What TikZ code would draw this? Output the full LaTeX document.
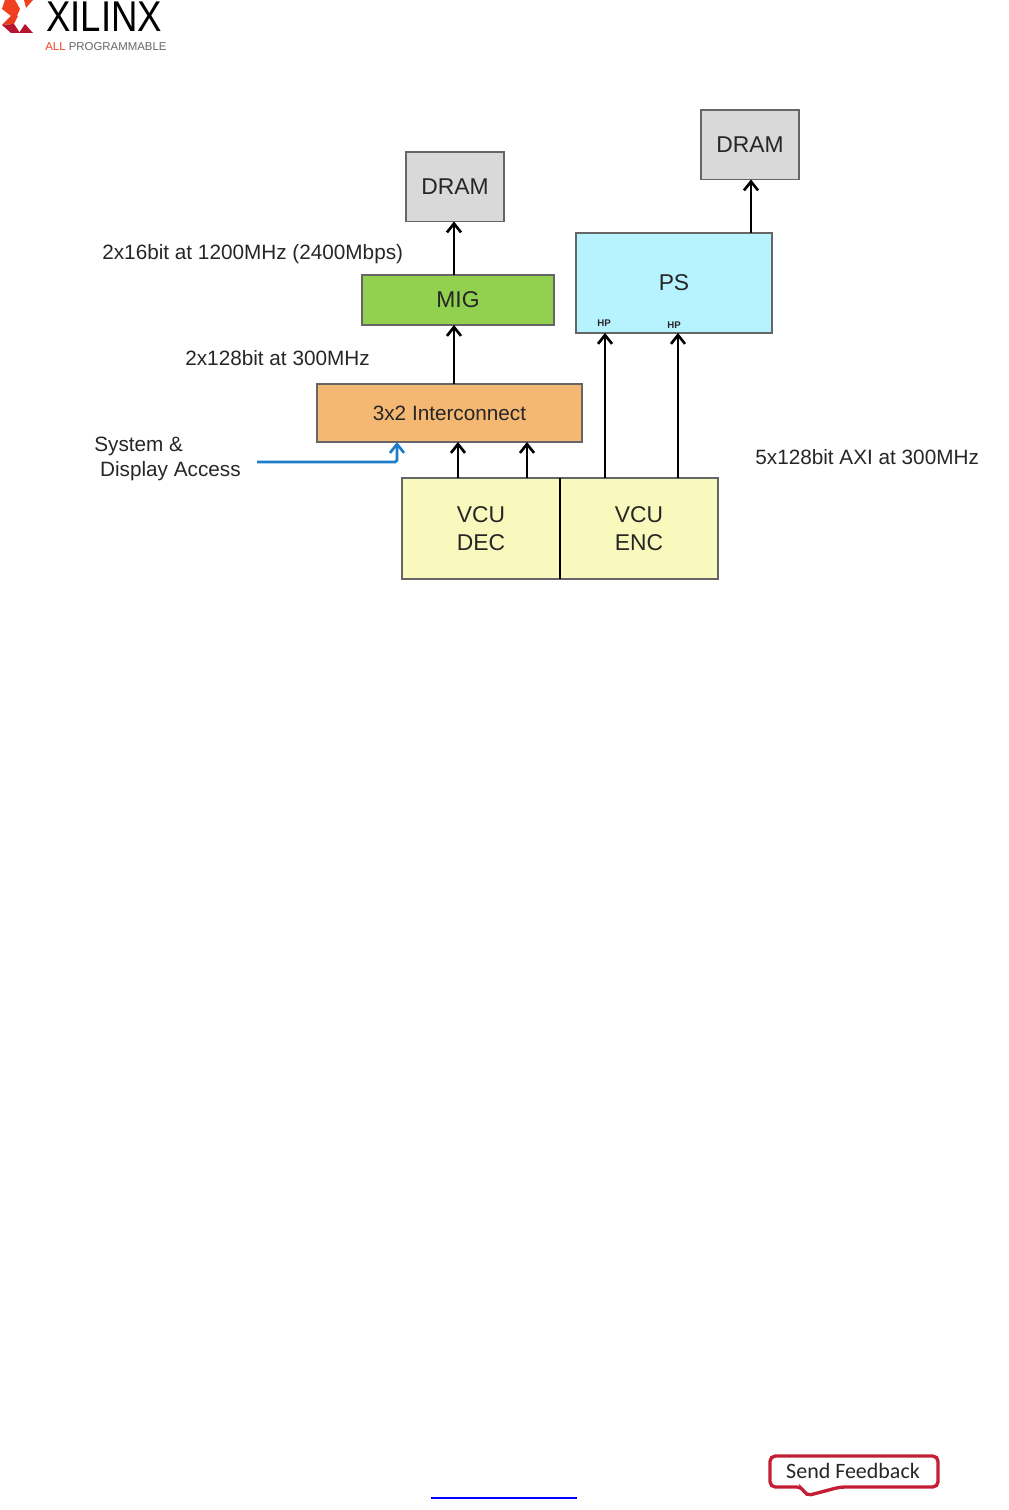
\documentclass[tikz,border=0pt]{standalone}
\usepackage{fontspec}
\setmainfont{Liberation Sans}
\newfontfamily\feedbackfont{Carlito}
\usetikzlibrary{arrows.meta,bending}

\definecolor{dramgray}{HTML}{D9D9D9}
\definecolor{psblue}{HTML}{B7F3FF}
\definecolor{miggreen}{HTML}{92D050}
\definecolor{icorange}{HTML}{F4B873}
\definecolor{vcuyellow}{HTML}{F9F9BE}
\definecolor{accessblue}{HTML}{1C7CC8}
\definecolor{sendred}{HTML}{C41E34}
\definecolor{logoorange}{HTML}{F0401E}
\definecolor{logored}{HTML}{B5162E}

\begin{document}
\begin{tikzpicture}[
  x=0.02cm,
  y=-0.02cm,
  every node/.style={font=\fontsize{13}{16}\selectfont,text=black!85},
  block/.style={draw=black!60,line width=0.9pt,inner sep=0pt,outer sep=0pt,align=center,anchor=north west},
  dram block/.style={block,fill=dramgray,minimum width=1.96cm,minimum height=1.39cm},
  vcu block/.style={block,fill=vcuyellow,minimum width=3.16cm,minimum height=2.02cm},
  bus label/.style={anchor=west,inner sep=0pt,font=\fontsize{11.8}{14.2}\selectfont,align=left},
  hp label/.style={inner sep=0pt,font=\fontsize{5.5}{6}\selectfont\bfseries},
  bus arrow/.style={-{Straight Barb[length=5pt,width=8pt]},line width=1.5pt,black},
]
\useasboundingbox (0,0) rectangle (1008,1510);

% logo
\fill[logoorange] (5,0) -- (15,0) -- (20,9) -- (17,16) -- (11,16) -- (2,9) -- cycle;
\fill[logoorange] (24,0) -- (33,0) -- (26,8) -- cycle;
\fill[logoorange!90!logored] (2,25) -- (11,16) -- (18,16) -- (14,24) -- cycle;
\fill[logored] (2,25) -- (14,24) -- (20,33) -- (11,33) -- cycle;
\fill[logored] (33,33) -- (19,33) -- (25,24) -- cycle;
\node[inner sep=0pt,anchor=west,text=black,font=\fontsize{24.5}{25}\selectfont] (xilinx) at (46,17) {\scalebox{0.85}[1]{XILINX}};
\node[inner sep=0pt,anchor=west,font=\fontsize{6.5}{7}\selectfont] (allprog) at (45,47) {\textcolor{logoorange}{ALL} \textcolor{black!60}{PROGRAMMABLE}};

% blocks
\node[dram block] (DRAMa) at (406,152) {DRAM};
\node[dram block] (DRAMb) at (701,110) {DRAM};
\node[block,fill=miggreen,minimum width=3.84cm,minimum height=1cm] (MIG) at (362,275) {MIG};
\node[block,fill=psblue,minimum width=3.92cm,minimum height=2cm] (PS) at (576,233) {PS};
\node[block,fill=icorange,minimum width=5.3cm,minimum height=1.16cm,font=\fontsize{11.8}{14}\selectfont] (IC) at (317,384) {3x2 Interconnect};
\node[vcu block] (DEC) at (402,478) {VCU\\DEC};
\node[vcu block] (ENC) at (560,478) {VCU\\ENC};
\draw[black,line width=1.2pt] (DEC.north east) -- (DEC.south east);

\node[hp label] (HPa) at (604,323) {HP};
\node[hp label] (HPb) at (674,325) {HP};

% labels
\node[bus label] (lDRAM) at (102,254) {2x16bit at 1200MHz (2400Mbps)};
\node[bus label] (lMIG) at (185,358) {2x128bit at 300MHz};
\node[bus label] (lAXI) at (755,457) {5x128bit AXI at 300MHz};
\node[bus label] (lSys) at (94,459) {System \&\\\ Display Access};

% arrows
\draw[bus arrow] (MIG.north -| 454,0) -- (DRAMa.south -| 454,0);
\draw[bus arrow] (PS.north -| 751,0) -- (DRAMb.south -| 751,0);
\draw[bus arrow] (IC.north -| 454,0) -- (MIG.south -| 454,0);
\draw[bus arrow] (DEC.north -| 458,0) -- (IC.south -| 458,0);
\draw[bus arrow] (DEC.north -| 527,0) -- (IC.south -| 527,0);
\draw[bus arrow] (ENC.north -| 605,0) -- (PS.south -| 605,0);
\draw[bus arrow] (ENC.north -| 678,0) -- (PS.south -| 678,0);
\coordinate (sysin) at (257,462);
\draw[bus arrow,accessblue,rounded corners=1pt] (sysin) -| (IC.south -| 397,0);

% footer
\node[inner sep=0pt,font=\feedbackfont\fontsize{12.5}{14}\selectfont] (feedback) at (853,1471) {Send Feedback};
\draw[sendred,line width=1.9pt,rounded corners=3pt] (770,1456) -- (938,1456) -- (938,1487) -- (840,1487) -- (806,1496) -- (802,1487) -- (770,1487) -- cycle;
\coordinate (linka) at (431,1498);
\coordinate (linkb) at (577,1498);
\draw[blue,line width=0.6pt] (linka) -- (linkb);
\end{tikzpicture}
\end{document}
